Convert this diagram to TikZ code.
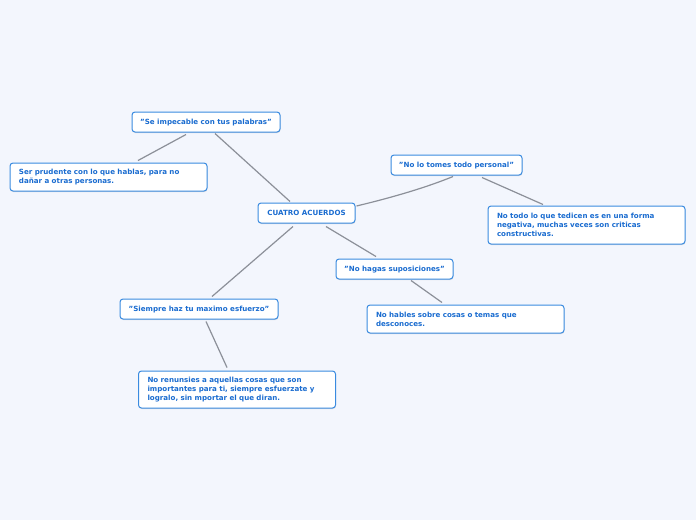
\documentclass[tikz,border=0pt]{standalone}
\usepackage{fontspec}
\setmainfont{DejaVu Sans}
\usetikzlibrary{positioning,shadows}
\definecolor{mapbg}{HTML}{F3F6FD}
\definecolor{mapblue}{HTML}{1A6CD0}
\definecolor{mapedge}{HTML}{3A8BE0}
\definecolor{mapline}{HTML}{8C9099}
\tikzset{
  mapbox/.style={draw=mapedge, line width=1pt, rounded corners=3pt, fill=white,
    text=mapblue, font=\fontsize{7.1}{9}\selectfont\bfseries, inner sep=0pt,
    drop shadow={shadow xshift=0.4pt, shadow yshift=-1pt, opacity=0.25}},
  maptopic/.style={mapbox, minimum height=20pt, align=center, text height=6pt, text depth=0.8pt},
  mapnote/.style={mapbox, align=left, inner xsep=9pt, text width=179pt},
  maplink/.style={draw=mapline, line width=1.2pt},
}

\begin{document}
\begin{tikzpicture}[x=1pt, y=-1pt]
  \fill[mapbg] (0,0) rectangle (696,520);
  % central topic
  \node[maptopic, minimum width=97pt] (root) at (306.5,213) {CUATRO ACUERDOS};
  % four agreements
  \node[maptopic, minimum width=148pt] (pal) at (206,122) {"Se impecable con tus palabras"};
  \node[maptopic, minimum width=131pt] (pers) at (456.5,165) {"No lo tomes todo personal"};
  \node[maptopic, minimum width=117pt] (sup) at (394.5,269) {"No hagas suposiciones"};
  \node[maptopic, minimum width=158pt] (esf) at (199,309) {"Siempre haz tu maximo esfuerzo"};
  % notes
  \node[mapnote, minimum height=28pt] (pru) at (108.5,177) {Ser prudente con lo que hablas, para no\\dañar a otras personas.};
  \node[mapnote, minimum height=38pt] (neg) at (586.5,225) {No todo lo que tedicen es en una forma\\negativa, muchas veces son criticas\\constructivas.};
  \node[mapnote, minimum height=28pt] (hab) at (465.5,319) {No hables sobre cosas o temas que\\desconoces.};
  \node[mapnote, minimum height=37pt] (ren) at (237,389.5) {No renunsies a aquellas cosas que son\\importantes para ti, siempre esfuerzate y\\logralo, sin mportar el que diran.};

  % links
  \draw[maplink] ([xshift=9pt,yshift=-1pt]pal.south) -- ([xshift=-16.5pt,yshift=1pt]root.north);
  \draw[maplink] ([xshift=-20pt,yshift=-2pt]pal.south) -- ([xshift=29.5pt,yshift=2pt]pru.north);
  \draw[maplink] ([xshift=1pt,yshift=7pt]root.east) .. controls (390,198) and (425,188) .. ([xshift=-3.5pt,yshift=-1pt]pers.south);
  \draw[maplink] ([xshift=25.5pt,yshift=-2pt]pers.south) -- ([xshift=-43.5pt,yshift=1pt]neg.north);
  \draw[maplink] ([xshift=19.5pt,yshift=-3pt]root.south) -- ([xshift=-18.5pt,yshift=2pt]sup.north);
  \draw[maplink] ([xshift=16.5pt,yshift=-1pt]sup.south) -- ([xshift=-23.5pt,yshift=2pt]hab.north);
  \draw[maplink] ([xshift=-13.5pt,yshift=-3pt]root.south) -- ([xshift=13pt,yshift=2pt]esf.north);
  \draw[maplink] ([xshift=7pt,yshift=-2pt]esf.south) -- ([xshift=-10pt,yshift=3pt]ren.north);
\end{tikzpicture}
\end{document}
